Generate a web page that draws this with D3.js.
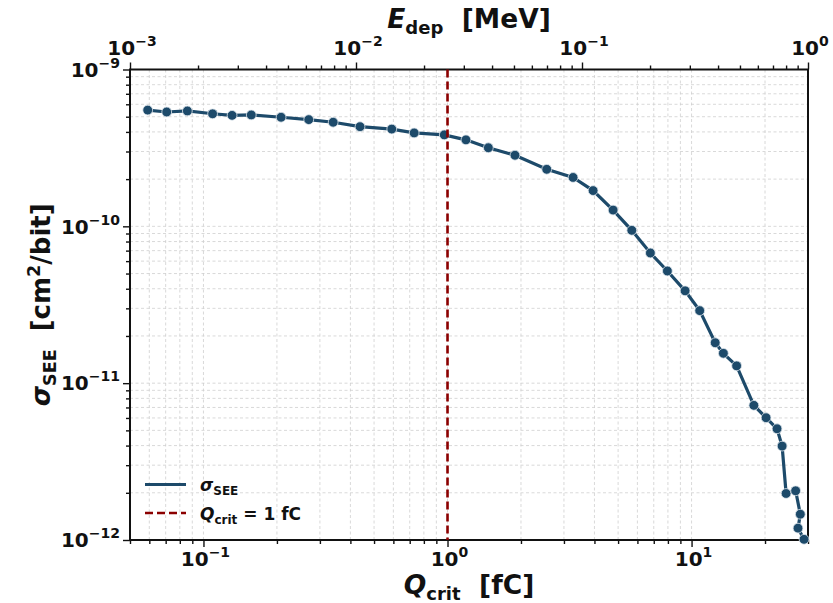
<!DOCTYPE html>
<html><head><meta charset="utf-8">
<script src="https://cdn.jsdelivr.net/npm/d3@7"></script>
<style>
body{margin:0;background:#fff}
text{font-family:"DejaVu Sans",sans-serif;font-weight:bold;fill:#111}
</style>
</head><body>
<svg id="c" width="833" height="603"></svg>
<script>
// ---- data ----
const qcrit = [0.0591,0.0707,0.0859,0.109,0.131,0.157,0.208,0.270,0.340,0.438,0.591,0.730,0.970,
  1.19,1.47,1.89,2.55,3.27,3.95,4.77,5.69,6.78,7.96,9.41,10.8,12.5,13.5,15.3,18.0,20.2,22.4,23.5,24.4,26.7,27.9,27.3,28.9];
const sigma = [5.51e-10,5.36e-10,5.44e-10,5.22e-10,5.10e-10,5.13e-10,4.96e-10,4.79e-10,4.61e-10,4.32e-10,4.17e-10,3.94e-10,3.83e-10,
  3.56e-10,3.17e-10,2.84e-10,2.31e-10,2.05e-10,1.69e-10,1.27e-10,9.43e-11,6.76e-11,5.19e-11,3.88e-11,2.90e-11,1.81e-11,1.55e-11,1.29e-11,
  7.22e-12,6.02e-12,5.12e-12,3.97e-12,1.98e-12,2.06e-12,1.46e-12,1.19e-12,1.01e-12];
const qLine = 1;
const xDomain = [0.05, 30];
const topDomain = [1e-3, 1];
const yDomain = [1e-12, 1e-9];
const xTickExp = [-1, 0, 1];
const topTickExp = [-3, -2, -1, 0];
const yTickExp = [-12, -11, -10, -9];
const legendLabels = ["σ|SEE", "Q|crit|= 1 fC"];

// ---- layout ----
const L = 130, R = 808, T = 69.5, B = 540;
const svg = d3.select("#c");
const x = d3.scaleLog().domain(xDomain).range([L, R]);
const xt = d3.scaleLog().domain(topDomain).range([L, R]);
const y = d3.scaleLog().domain(yDomain).range([B, T]);
const lineCol = "#1d4a6a", redCol = "#8b0000";

function minors(dom){
  const out=[];
  const a=Math.floor(Math.log10(dom[0])), b=Math.ceil(Math.log10(dom[1]));
  for(let e=a;e<b;e++) for(let m=2;m<=9;m++){const v=m*Math.pow(10,e); if(v>=dom[0]*0.9999&&v<=dom[1]*1.0001) out.push(v);}
  return out;
}
const xMaj = xTickExp.map(e=>Math.pow(10,e)), tMaj = topTickExp.map(e=>Math.pow(10,e)), yMaj = yTickExp.map(e=>Math.pow(10,e));

// grid
const grid = svg.append("g").attr("stroke","#cfcfcf").attr("stroke-width",0.8).attr("stroke-dasharray","3,2.5");
xMaj.concat(minors(xDomain)).forEach(v=>grid.append("line").attr("x1",x(v)).attr("x2",x(v)).attr("y1",T).attr("y2",B));
yMaj.concat(minors(yDomain)).forEach(v=>grid.append("line").attr("y1",y(v)).attr("y2",y(v)).attr("x1",L).attr("x2",R));

// axes
function styleAxis(g){ g.select(".domain").remove(); g.selectAll("line").attr("stroke","#111").attr("stroke-width",1.4); }
svg.append("g").attr("transform",`translate(0,${B})`).call(d3.axisBottom(x).tickValues(xMaj).tickFormat("").tickSize(7)).call(styleAxis);
svg.append("g").attr("transform",`translate(0,${B})`).call(d3.axisBottom(x).tickValues(minors(xDomain)).tickFormat("").tickSize(4)).call(styleAxis);
svg.append("g").attr("transform",`translate(0,${T})`).call(d3.axisTop(xt).tickValues(tMaj).tickFormat("").tickSize(7)).call(styleAxis);
svg.append("g").attr("transform",`translate(0,${T})`).call(d3.axisTop(xt).tickValues(minors(topDomain)).tickFormat("").tickSize(4)).call(styleAxis);
svg.append("g").attr("transform",`translate(${L},0)`).call(d3.axisLeft(y).tickValues(yMaj).tickFormat("").tickSize(7)).call(styleAxis);
svg.append("g").attr("transform",`translate(${L},0)`).call(d3.axisLeft(y).tickValues(minors(yDomain)).tickFormat("").tickSize(4)).call(styleAxis);

function powLabel(px, py, e, anchor){
  const t = svg.append("text").attr("x",px).attr("y",py).attr("text-anchor",anchor).style("font-size","20px");
  t.append("tspan").text("10");
  t.append("tspan").attr("dy",-9).style("font-size","14px").text((e<0?"−":"")+Math.abs(e));
  return t;
}
xTickExp.forEach(e=>powLabel(x(Math.pow(10,e))+2, B+26, e, "middle"));
topTickExp.forEach(e=>powLabel(xt(Math.pow(10,e))+2, T-14.5, e, "middle"));
yTickExp.forEach(e=>powLabel(L-10, y(Math.pow(10,e))+7.3, e, "end"));

// frame
svg.append("rect").attr("x",L).attr("y",T).attr("width",R-L).attr("height",B-T).attr("fill","none").attr("stroke","#111").attr("stroke-width",2);

// data line
const pts = qcrit.map((q,i)=>[q,sigma[i]]);
svg.append("path").datum(pts).attr("fill","none").attr("stroke",lineCol).attr("stroke-width",3.2)
  .attr("d", d3.line().x(d=>x(d[0])).y(d=>y(d[1])));
svg.append("g").selectAll("circle").data(pts).join("circle")
  .attr("cx",d=>x(d[0])).attr("cy",d=>y(d[1])).attr("r",4.9)
  .attr("fill",lineCol).attr("stroke","#dfe7ee").attr("stroke-width",0.8);

// vertical dashed line
svg.append("line").attr("x1",x(qLine)).attr("x2",x(qLine)).attr("y1",T).attr("y2",B)
  .attr("stroke",redCol).attr("stroke-width",2.6).attr("stroke-dasharray","8,4");

// axis labels
function subLabel(t, mainTxt, sub, rest, size){
  t.append("tspan").style("font-style","italic").text(mainTxt);
  t.append("tspan").attr("dy",size*0.22).style("font-size",(size*0.68)+"px").text(sub);
  t.append("tspan").attr("dy",-size*0.22).text(rest);
  return t;
}
const FS = 26.5;
const xl = svg.append("text").attr("x",(L+R)/2).attr("y",594).attr("text-anchor","middle").style("font-size",FS+"px");
subLabel(xl,"Q","crit","\u00a0\u00a0[fC]",FS);
const tl = svg.append("text").attr("x",(L+R)/2).attr("y",28).attr("text-anchor","middle").style("font-size",FS+"px");
subLabel(tl,"E","dep","\u00a0\u00a0[MeV]",FS);
const yl = svg.append("text").attr("transform",`translate(50,${(T+B)/2}) rotate(-90)`).attr("text-anchor","middle").style("font-size","26px");
yl.append("tspan").style("font-style","italic").text("σ");
yl.append("tspan").attr("dy",5.7).style("font-size","17.5px").text("SEE");
yl.append("tspan").attr("dy",-5.7).text("\u00a0\u00a0[cm");
yl.append("tspan").attr("dy",-10.5).style("font-size","17.5px").text("2");
yl.append("tspan").attr("dy",10.5).text("/bit]");

// legend
const lg = svg.append("g");
lg.append("line").attr("x1",145).attr("x2",186).attr("y1",484.5).attr("y2",484.5).attr("stroke",lineCol).attr("stroke-width",3.2);
lg.append("line").attr("x1",145).attr("x2",186).attr("y1",513).attr("y2",513).attr("stroke",redCol).attr("stroke-width",2.6).attr("stroke-dasharray","8,4");
const l1 = lg.append("text").attr("x",200).attr("y",491).style("font-size","17px");
const p1 = legendLabels[0].split("|");
l1.append("tspan").style("font-style","italic").text(p1[0]);
l1.append("tspan").attr("dy",4).style("font-size","12px").text(p1[1]);
const l2 = lg.append("text").attr("x",200).attr("y",520).style("font-size","17px");
const p2 = legendLabels[1].split("|");
l2.append("tspan").style("font-style","italic").text(p2[0]);
l2.append("tspan").attr("dy",4).style("font-size","12px").text(p2[1]);
l2.append("tspan").attr("dy",-4).text(" "+p2[2]);
</script>
</body></html>
